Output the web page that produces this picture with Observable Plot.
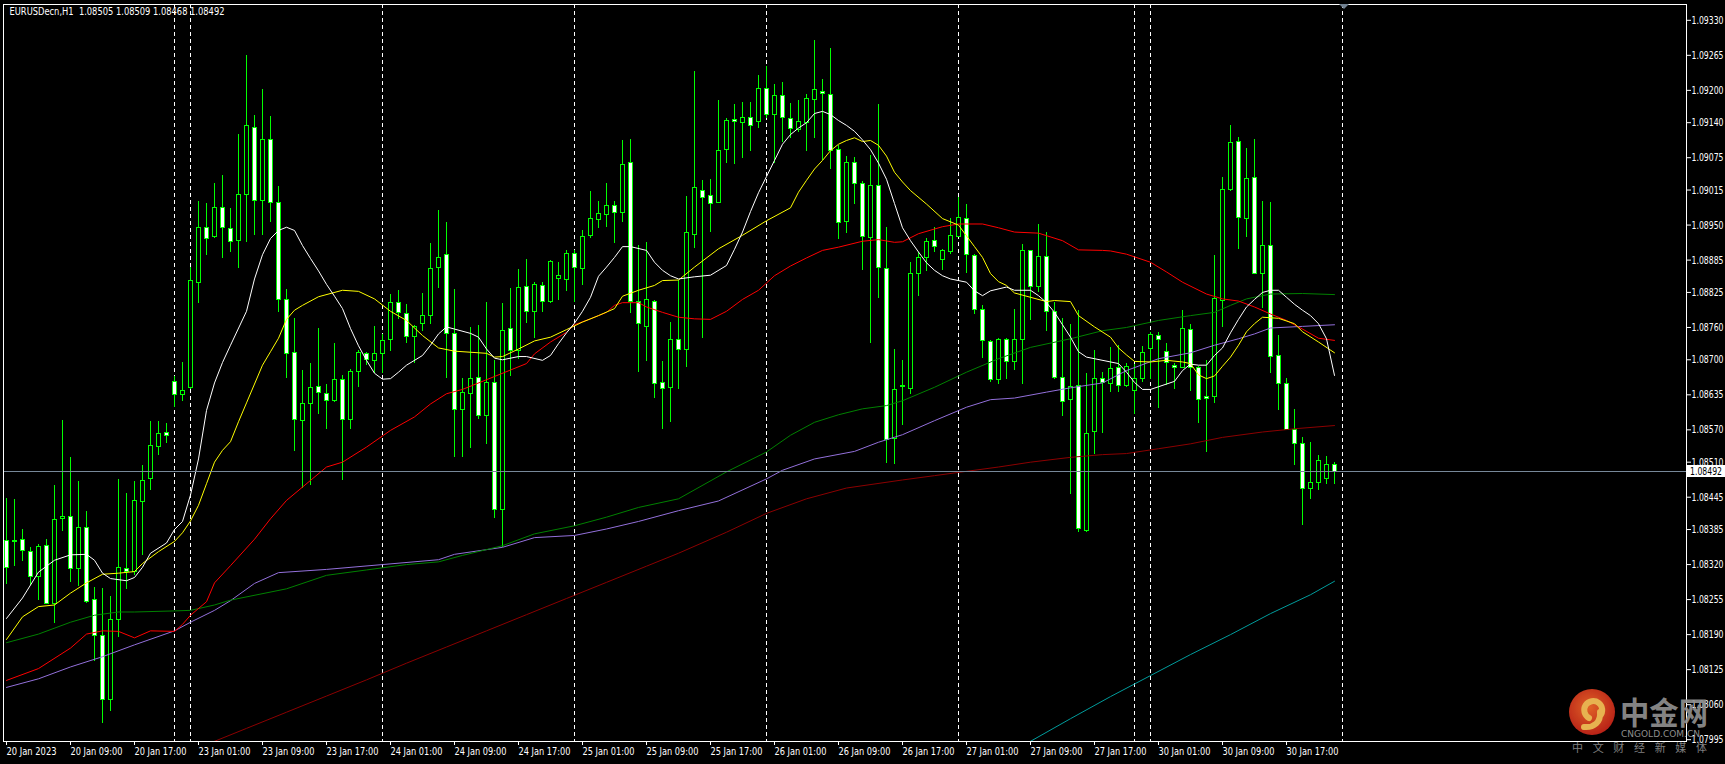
<!DOCTYPE html>
<html><head><meta charset="utf-8">
<script src="https://cdn.jsdelivr.net/npm/d3@7"></script>
<script src="https://cdn.jsdelivr.net/npm/@observablehq/plot@0.6"></script>
<style>html,body{margin:0;padding:0;background:#000;overflow:hidden}#chart{width:1725px;height:764px}</style>
</head><body><div id="chart"></div>
<script>
const symbol = "EURUSDecn,H1";
const opens = [1.08363,1.08364,1.08366,1.08344,1.08296,1.08354,1.08246,1.08404,1.08408,1.08311,1.08387,1.08254,1.08187,1.08068,1.08218,1.08312,1.08306,1.08437,1.08478,1.08539,1.08565,1.08659,1.08634,1.08648,1.08843,1.08945,1.08928,1.08982,1.08943,1.08920,1.09006,1.09130,1.08994,1.09108,1.08991,1.08811,1.08713,1.08586,1.08618,1.08649,1.08637,1.08623,1.08663,1.08589,1.08677,1.08711,1.08697,1.08711,1.08737,1.08806,1.08785,1.08743,1.08766,1.08781,1.08871,1.08895,1.08748,1.08607,1.08637,1.08666,1.08595,1.08657,1.08422,1.08757,1.08717,1.08835,1.08788,1.08837,1.08807,1.08850,1.08848,1.08897,1.08869,1.08929,1.08960,1.08969,1.08985,1.08973,1.09066,1.08807,1.08761,1.08807,1.08657,1.08648,1.08737,1.08719,1.08932,1.09014,1.09004,1.08991,1.09090,1.09145,1.09140,1.09149,1.09142,1.09203,1.09155,1.09189,1.09147,1.09127,1.09140,1.09182,1.09197,1.09192,1.09090,1.08955,1.09065,1.09026,1.08926,1.09023,1.08869,1.08553,1.08649,1.08646,1.08860,1.08889,1.08921,1.08886,1.08900,1.08928,1.08962,1.08892,1.08793,1.08733,1.08663,1.08737,1.08696,1.08737,1.08902,1.08835,1.08890,1.08788,1.08667,1.08626,1.08651,1.08382,1.08566,1.08665,1.08655,1.08685,1.08651,1.08643,1.08665,1.08720,1.08745,1.08714,1.08689,1.08685,1.08756,1.08685,1.08631,1.08631,1.08809,1.09016,1.09105,1.08962,1.09038,1.08859,1.08911,1.08707,1.08655,1.08570,1.08544,1.08460,1.08472,1.08479,1.08505];
const highs = [1.08442,1.08440,1.08385,1.08352,1.08357,1.08367,1.08467,1.08588,1.08518,1.08475,1.08419,1.08278,1.08276,1.08261,1.08478,1.08451,1.08475,1.08504,1.08585,1.08585,1.08581,1.08669,1.08695,1.08871,1.08994,1.08990,1.09027,1.09042,1.08980,1.09118,1.09265,1.09153,1.09201,1.09152,1.09022,1.08830,1.08776,1.08680,1.08693,1.08758,1.08655,1.08730,1.08671,1.08682,1.08717,1.08714,1.08761,1.08747,1.08821,1.08829,1.08803,1.08764,1.08823,1.08916,1.08977,1.08954,1.08830,1.08665,1.08759,1.08764,1.08806,1.08699,1.08804,1.08832,1.08868,1.08887,1.08844,1.08844,1.08885,1.08880,1.08903,1.08903,1.08940,1.09012,1.08994,1.09028,1.08994,1.09107,1.09109,1.08912,1.08917,1.08810,1.08697,1.08769,1.08847,1.09003,1.09235,1.09033,1.09035,1.09181,1.09148,1.09174,1.09178,1.09178,1.09228,1.09244,1.09210,1.09215,1.09175,1.09181,1.09192,1.09293,1.09221,1.09277,1.09098,1.09078,1.09076,1.09030,1.09080,1.09174,1.08945,1.08720,1.08699,1.08881,1.08900,1.08926,1.08945,1.08904,1.08962,1.09002,1.08989,1.08895,1.08801,1.08736,1.08739,1.08739,1.08793,1.08914,1.08903,1.08951,1.08936,1.08807,1.08776,1.08766,1.08791,1.08674,1.08717,1.08677,1.08723,1.08727,1.08694,1.08692,1.08725,1.08750,1.08750,1.08730,1.08694,1.08791,1.08765,1.08688,1.08699,1.08894,1.09039,1.09135,1.09113,1.09093,1.09109,1.08994,1.08991,1.08745,1.08666,1.08608,1.08556,1.08547,1.08522,1.08521,1.08509];
const lows = [1.08283,1.08316,1.08325,1.08281,1.08253,1.08245,1.08211,1.08382,1.08286,1.08279,1.08248,1.08140,1.08025,1.08047,1.08184,1.08274,1.08300,1.08337,1.08457,1.08523,1.08545,1.08612,1.08622,1.08644,1.08805,1.08894,1.08925,1.08888,1.08899,1.08870,1.08918,1.08930,1.08930,1.08954,1.08787,1.08666,1.08530,1.08462,1.08467,1.08598,1.08570,1.08621,1.08476,1.08570,1.08649,1.08690,1.08675,1.08675,1.08716,1.08774,1.08730,1.08693,1.08753,1.08766,1.08832,1.08665,1.08518,1.08519,1.08536,1.08589,1.08542,1.08405,1.08352,1.08669,1.08700,1.08767,1.08739,1.08788,1.08805,1.08810,1.08826,1.08807,1.08838,1.08926,1.08943,1.08946,1.08916,1.08955,1.08785,1.08677,1.08697,1.08629,1.08571,1.08584,1.08644,1.08686,1.08907,1.08740,1.08937,1.08991,1.09065,1.09062,1.09073,1.09087,1.09130,1.09147,1.09065,1.09104,1.09110,1.09122,1.09087,1.09111,1.09070,1.09054,1.08923,1.08935,1.08989,1.08866,1.08730,1.08814,1.08508,1.08505,1.08578,1.08636,1.08818,1.08863,1.08900,1.08866,1.08895,1.08928,1.08860,1.08784,1.08703,1.08657,1.08655,1.08663,1.08680,1.08655,1.08772,1.08824,1.08753,1.08663,1.08594,1.08450,1.08380,1.08380,1.08524,1.08563,1.08640,1.08640,1.08649,1.08598,1.08658,1.08663,1.08610,1.08653,1.08644,1.08683,1.08642,1.08581,1.08528,1.08618,1.08760,1.09012,1.08904,1.08927,1.08858,1.08795,1.08675,1.08606,1.08569,1.08504,1.08392,1.08440,1.08457,1.08468,1.08468];
const closes = [1.08314,1.08362,1.08345,1.08296,1.08352,1.08246,1.08403,1.08408,1.08311,1.08387,1.08251,1.08188,1.08068,1.08218,1.08313,1.08306,1.08438,1.08476,1.08540,1.08563,1.08558,1.08634,1.08643,1.08847,1.08945,1.08925,1.08982,1.08945,1.08918,1.09006,1.09133,1.08994,1.09108,1.08991,1.08811,1.08711,1.08589,1.08618,1.08648,1.08638,1.08624,1.08663,1.08589,1.08678,1.08713,1.08700,1.08711,1.08735,1.08806,1.08787,1.08743,1.08761,1.08781,1.08869,1.08889,1.08748,1.08607,1.08638,1.08665,1.08595,1.08657,1.08422,1.08754,1.08717,1.08833,1.08788,1.08839,1.08807,1.08881,1.08855,1.08897,1.08871,1.08928,1.08962,1.08971,1.08986,1.08973,1.09062,1.08808,1.08767,1.08811,1.08655,1.08646,1.08737,1.08719,1.08936,1.09019,1.09001,1.08989,1.09088,1.09144,1.09142,1.09149,1.09133,1.09203,1.09155,1.09189,1.09149,1.09129,1.09142,1.09184,1.09200,1.09194,1.09088,1.08954,1.09065,1.09026,1.08927,1.09023,1.08870,1.08551,1.08644,1.08651,1.08860,1.08889,1.08918,1.08909,1.08901,1.08929,1.08963,1.08895,1.08793,1.08735,1.08663,1.08737,1.08696,1.08737,1.08901,1.08835,1.08890,1.08788,1.08667,1.08621,1.08649,1.08386,1.08563,1.08665,1.08657,1.08683,1.08651,1.08686,1.08665,1.08713,1.08746,1.08736,1.08694,1.08685,1.08757,1.08685,1.08626,1.08628,1.08812,1.09016,1.09103,1.08963,1.09036,1.08859,1.08912,1.08706,1.08655,1.08570,1.08544,1.08460,1.08472,1.08513,1.08505,1.08492];

const maWhite = [[0,1.08220],[2,1.08258],[4,1.08306],[6,1.08328],[8,1.08338],[10,1.08339],[11,1.08328],[12,1.08304],[13,1.08294],[15,1.08290],[16,1.08296],[17,1.08315],[18,1.08341],[20,1.08360],[21,1.08385],[22,1.08400],[23,1.08449],[24,1.08516],[25,1.08606],[26,1.08657],[27,1.08695],[28,1.08727],[30,1.08790],[31,1.08850],[32,1.08895],[33,1.08925],[34,1.08940],[35,1.08946],[36,1.08940],[37,1.08912],[38,1.08888],[39,1.08865],[40,1.08840],[41,1.08818],[42,1.08795],[43,1.08758],[44,1.08726],[45,1.08699],[46,1.08675],[47,1.08664],[48,1.08665],[49,1.08677],[50,1.08690],[52,1.08708],[53,1.08727],[54,1.08748],[55,1.08761],[56,1.08757],[58,1.08749],[59,1.08742],[60,1.08720],[61,1.08703],[62,1.08700],[64,1.08706],[65,1.08706],[67,1.08699],[68,1.08708],[69,1.08730],[70,1.08750],[71,1.08768],[72,1.08790],[73,1.08816],[74,1.08855],[75,1.08872],[76,1.08890],[77,1.08910],[78,1.08910],[80,1.08903],[81,1.08881],[82,1.08866],[83,1.08856],[84,1.08850],[86,1.08854],[88,1.08857],[90,1.08875],[91,1.08905],[92,1.08937],[93,1.08975],[94,1.09010],[95,1.09040],[96,1.09070],[97,1.09100],[98,1.09118],[99,1.09130],[100,1.09140],[101,1.09157],[102,1.09161],[103,1.09155],[104,1.09144],[105,1.09135],[106,1.09124],[107,1.09108],[108,1.09090],[109,1.09065],[110,1.09035],[111,1.08990],[112,1.08945],[113,1.08921],[114,1.08900],[115,1.08880],[116,1.08866],[117,1.08856],[118,1.08850],[119,1.08847],[120,1.08844],[121,1.08828],[122,1.08819],[123,1.08828],[125,1.08835],[126,1.08829],[128,1.08829],[129,1.08819],[130,1.08806],[131,1.08788],[132,1.08765],[133,1.08742],[134,1.08715],[135,1.08705],[136,1.08702],[138,1.08696],[139,1.08693],[140,1.08677],[141,1.08658],[142,1.08645],[143,1.08645],[144,1.08650],[145,1.08655],[146,1.08660],[147,1.08680],[148,1.08692],[149,1.08690],[150,1.08690],[151,1.08708],[152,1.08722],[153,1.08750],[154,1.08775],[155,1.08798],[156,1.08812],[157,1.08825],[158,1.08829],[159,1.08829],[160,1.08816],[161,1.08803],[162,1.08792],[163,1.08782],[164,1.08767],[165,1.08739],[166,1.08671]];
const maYellow = [[0,1.08181],[2,1.08223],[4,1.08242],[6,1.08245],[8,1.08267],[10,1.08286],[12,1.08302],[14,1.08304],[16,1.08307],[17,1.08322],[19,1.08344],[21,1.08363],[22,1.08379],[23,1.08401],[24,1.08430],[25,1.08470],[26,1.08510],[27,1.08532],[28,1.08548],[29,1.08585],[30,1.08620],[31,1.08655],[32,1.08690],[33,1.08715],[34,1.08740],[35,1.08775],[36,1.08792],[37,1.08801],[39,1.08817],[42,1.08829],[44,1.08827],[46,1.08813],[48,1.08790],[50,1.08773],[52,1.08745],[54,1.08722],[56,1.08716],[58,1.08714],[60,1.08712],[61,1.08705],[62,1.08706],[64,1.08720],[66,1.08735],[68,1.08742],[70,1.08756],[72,1.08770],[74,1.08782],[76,1.08795],[77,1.08818],[79,1.08829],[81,1.08838],[82,1.08847],[84,1.08848],[86,1.08872],[89,1.08906],[92,1.08931],[95,1.08958],[98,1.08982],[99,1.09011],[100,1.09033],[101,1.09054],[102,1.09070],[103,1.09088],[104,1.09100],[105,1.09107],[106,1.09112],[107,1.09105],[108,1.09107],[109,1.09098],[110,1.09078],[111,1.09048],[112,1.09030],[113,1.09014],[115,1.08989],[117,1.08962],[119,1.08950],[120,1.08930],[121,1.08910],[122,1.08890],[123,1.08860],[124,1.08845],[125,1.08838],[126,1.08824],[128,1.08816],[130,1.08808],[131,1.08810],[133,1.08808],[134,1.08782],[136,1.08761],[138,1.08742],[139,1.08722],[140,1.08709],[141,1.08697],[143,1.08696],[145,1.08699],[147,1.08696],[148,1.08693],[149,1.08672],[150,1.08665],[151,1.08670],[152,1.08688],[153,1.08705],[154,1.08727],[155,1.08752],[156,1.08767],[157,1.08779],[159,1.08777],[161,1.08767],[162,1.08752],[164,1.08733],[166,1.08713]];
const maRed = [[0,1.08105],[4,1.08127],[8,1.08165],[10,1.08191],[12,1.08197],[14,1.08196],[16,1.08184],[18,1.08197],[21,1.08196],[22,1.08209],[23,1.08226],[25,1.08251],[26,1.08286],[28,1.08318],[31,1.08367],[33,1.08405],[35,1.08439],[40,1.08501],[42,1.08510],[45,1.08538],[48,1.08569],[51,1.08594],[53,1.08618],[55,1.08637],[57,1.08645],[60,1.08663],[61,1.08669],[63,1.08681],[65,1.08693],[66,1.08711],[68,1.08733],[70,1.08751],[71,1.08765],[73,1.08776],[75,1.08788],[76,1.08801],[77,1.08806],[79,1.08806],[80,1.08798],[82,1.08788],[84,1.08779],[86,1.08776],[88,1.08775],[90,1.08790],[92,1.08812],[94,1.08829],[96,1.08856],[98,1.08874],[100,1.08889],[102,1.08903],[104,1.08909],[107,1.08920],[109,1.08923],[111,1.08918],[112,1.08919],[114,1.08934],[117,1.08947],[119,1.08952],[122,1.08952],[124,1.08945],[126,1.08937],[129,1.08935],[132,1.08921],[134,1.08904],[137,1.08903],[138,1.08902],[140,1.08896],[143,1.08881],[145,1.08863],[147,1.08844],[150,1.08822],[152,1.08813],[154,1.08809],[156,1.08798],[158,1.08785],[160,1.08773],[162,1.08757],[164,1.08740],[166,1.08736]];
const maGreen = [[0,1.08175],[4,1.08191],[8,1.08213],[11,1.08226],[14,1.08232],[16,1.08232],[21,1.08234],[23,1.08235],[26,1.08245],[28,1.08254],[35,1.08275],[40,1.08300],[45,1.08310],[50,1.08320],[54,1.08325],[57,1.08337],[62,1.08355],[66,1.08377],[71,1.08392],[75,1.08408],[79,1.08426],[84,1.08442],[90,1.08492],[95,1.08529],[98,1.08560],[101,1.08584],[104,1.08598],[107,1.08609],[110,1.08615],[112,1.08624],[116,1.08649],[120,1.08677],[124,1.08702],[128,1.08723],[133,1.08739],[137,1.08754],[140,1.08760],[144,1.08773],[148,1.08782],[151,1.08788],[153,1.08801],[155,1.08813],[158,1.08822],[162,1.08823],[166,1.08821]];
const maPurple = [[0,1.08092],[4,1.08108],[8,1.08130],[12,1.08149],[16,1.08171],[21,1.08197],[23,1.08213],[26,1.08235],[28,1.08253],[31,1.08285],[34,1.08305],[40,1.08311],[47,1.08320],[54,1.08329],[56,1.08339],[62,1.08352],[66,1.08370],[71,1.08374],[75,1.08386],[79,1.08400],[84,1.08420],[89,1.08438],[95,1.08479],[97,1.08495],[101,1.08516],[106,1.08530],[109,1.08547],[112,1.08561],[116,1.08587],[120,1.08612],[123,1.08626],[126,1.08629],[130,1.08640],[133,1.08648],[137,1.08657],[140,1.08680],[144,1.08702],[148,1.08713],[151,1.08727],[154,1.08739],[156,1.08748],[158,1.08759],[162,1.08762],[166,1.08765]];
const maMaroon = [[24,1.07980],[26,1.07992],[30,1.08016],[35,1.08046],[40,1.08076],[45,1.08106],[50,1.08137],[55,1.08167],[60,1.08197],[65,1.08227],[70,1.08257],[75,1.08287],[80,1.08317],[84,1.08341],[90,1.08380],[95,1.08415],[100,1.08442],[105,1.08462],[112,1.08477],[116,1.08485],[120,1.08493],[124,1.08501],[128,1.08510],[133,1.08519],[137,1.08524],[140,1.08526],[144,1.08535],[148,1.08544],[152,1.08556],[157,1.08566],[161,1.08572],[166,1.08578]];
const maTeal = [[127,1.07980],[128,1.07992],[133,1.08034],[138,1.08075],[143,1.08114],[148,1.08153],[153,1.08190],[158,1.08229],[163,1.08264],[166,1.08289]];

const timeLabelBars = [0,8,16,24,32,40,48,56,64,72,80,88,96,104,112,120,128,136,144,152,160];
const timeLabels = ["20 Jan 2023","20 Jan 09:00","20 Jan 17:00","23 Jan 01:00","23 Jan 09:00","23 Jan 17:00","24 Jan 01:00","24 Jan 09:00","24 Jan 17:00","25 Jan 01:00","25 Jan 09:00","25 Jan 17:00","26 Jan 01:00","26 Jan 09:00","26 Jan 17:00","27 Jan 01:00","27 Jan 09:00","27 Jan 17:00","30 Jan 01:00","30 Jan 09:00","30 Jan 17:00"];
const priceTicks = [1.09330,1.09265,1.09200,1.09140,1.09075,1.09015,1.08950,1.08885,1.08825,1.08760,1.08700,1.08635,1.08570,1.08510,1.08445,1.08385,1.08320,1.08255,1.08190,1.08125,1.08060,1.07995];
const separatorBars = [21,23,47,71,95,119,141,143,167];

const bars = opens.map((o, i) => ({i, o, h: highs[i], l: lows[i], c: closes[i]}));
const bear = bars.filter(d => d.c < d.o);
const bull = bars.filter(d => d.c >= d.o);
const last = bars[bars.length - 1];
const f5 = v => v.toFixed(5);
const title = `${symbol}\u00a0\u00a0${f5(last.o)} ${f5(last.h)} ${f5(last.l)} ${f5(last.c)}`;
const GREEN = "#00ff00";
const maLine = (data, stroke) => Plot.line(data, {x: d => d[0], y: d => d[1], stroke, strokeWidth: 1, clip: true});

const plot = Plot.plot({
  width: 1725, height: 764,
  marginLeft: 3, marginRight: 39, marginTop: 4, marginBottom: 23,
  style: {background: "#000", color: "#fff", fontFamily: "DejaVu Sans, Verdana, sans-serif", fontSize: "11px", overflow: "visible"},
  x: {type: "linear", domain: [0, 210], range: [6, 1686]},
  y: {type: "linear", domain: [1.07995, 1.09330], range: [739.2, 19.8]},
  marks: [
    Plot.ruleX(separatorBars, {x: d => d, stroke: "#fff", strokeDasharray: "4,3", shapeRendering: "crispEdges"}),
    Plot.ruleX(bars, {x: "i", y1: "l", y2: "h", stroke: GREEN, clip: true, shapeRendering: "crispEdges"}),
    Plot.rect(bull, {x1: d => d.i - 0.25, x2: d => d.i + 0.25, y1: "o", y2: "c", fill: "#000", stroke: GREEN, clip: true, shapeRendering: "crispEdges"}),
    Plot.rect(bear, {x1: d => d.i - 0.25, x2: d => d.i + 0.25, y1: "c", y2: "o", fill: "#fff", stroke: GREEN, clip: true, shapeRendering: "crispEdges"}),
    maLine(maTeal, "#009c9c"),
    maLine(maMaroon, "#8b0000"),
    maLine(maPurple, "#9370db"),
    maLine(maGreen, "#008000"),
    maLine(maRed, "#ff0000"),
    maLine(maYellow, "#ffff00"),
    maLine(maWhite, "#ffffff"),
    Plot.ruleY([last.c], {stroke: "#778899", shapeRendering: "crispEdges"}),
    Plot.frame({stroke: "#fff", shapeRendering: "crispEdges"}),
    Plot.axisY({anchor: "right", ticks: priceTicks, tickFormat: f5, tickSize: 4, tickPadding: 1, fill: "#fff", stroke: "#fff", label: null}),
    Plot.axisX({anchor: "bottom", ticks: timeLabelBars, tickFormat: i => timeLabels[timeLabelBars.indexOf(i)], tickSize: 4, tickPadding: 2, textAnchor: "start", dx: 0, fill: "#fff", stroke: "#fff", label: null}),
    Plot.text([title], {frameAnchor: "top-left", dx: 6, dy: 3, lineAnchor: "top", textAnchor: "start", fill: "#fff"})
  ]
});

document.getElementById("chart").appendChild(plot);
const svg = d3.select(plot);
svg.selectAll('[aria-label="y-axis tick label"] text').attr("textLength", 32).attr("lengthAdjust", "spacingAndGlyphs");
svg.selectAll('[aria-label="x-axis tick label"] text').attr("textLength", function () { return this.textContent.includes(":") ? 52 : 50; }).attr("lengthAdjust", "spacingAndGlyphs");
svg.selectAll('[aria-label="text"] text').attr("textLength", 215).attr("lengthAdjust", "spacingAndGlyphs");

// current price box
const yp = plot.scale("y").apply(last.c);
const g = svg.append("g").attr("text-anchor", "start");
g.append("rect").attr("x", 1687).attr("y", Math.round(yp) - 6).attr("width", 38).attr("height", 12).attr("fill", "#fff");
g.append("text").attr("x", 1690).attr("y", yp).attr("dy", "0.36em").attr("fill", "#000").attr("font-size", 11)
  .attr("textLength", 32).attr("lengthAdjust", "spacingAndGlyphs").text(f5(last.c));
// chart shift marker
g.append("path").attr("d", "M1339,4L1349,4L1344,9Z").attr("fill", "#708090");

// watermark
const defs = svg.append("defs");
const rg = defs.append("radialGradient").attr("id", "lg").attr("cx", "45%").attr("cy", "40%").attr("r", "60%");
rg.append("stop").attr("offset", "0%").attr("stop-color", "#f36a2a");
rg.append("stop").attr("offset", "100%").attr("stop-color", "#c9261a");
const w = svg.append("g").attr("opacity", 0.92).attr("text-anchor", "start");
w.append("circle").attr("cx", 1592).attr("cy", 712).attr("r", 23).attr("fill", "url(#lg)");
w.append("path").attr("d", "M1600,716 A9,9 0 1 0 1589,718 M1600,712 C1601,722 1594,728 1584,727")
  .attr("fill", "none").attr("stroke", "#fbc257").attr("stroke-width", 6).attr("stroke-linecap", "round");
w.append("text").attr("x", 1620).attr("y", 724).attr("font-family", "Noto Sans CJK SC").attr("font-weight", "bold")
  .attr("font-size", 31).attr("fill", "#8f8f8f").attr("textLength", 88).attr("lengthAdjust", "spacingAndGlyphs").text("中金网");
w.append("text").attr("x", 1621).attr("y", 737).attr("font-family", "DejaVu Sans").attr("font-size", 9)
  .attr("fill", "#9a9a9a").attr("textLength", 79).attr("lengthAdjust", "spacingAndGlyphs").text("CNGOLD.COM.CN");
w.append("text").attr("x", 1572).attr("y", 752).attr("font-family", "Noto Sans CJK SC").attr("font-size", 11)
  .attr("fill", "#8a8a8a").attr("textLength", 135).attr("lengthAdjust", "spacing").text("中文财经新媒体");
</script>
</body></html>
